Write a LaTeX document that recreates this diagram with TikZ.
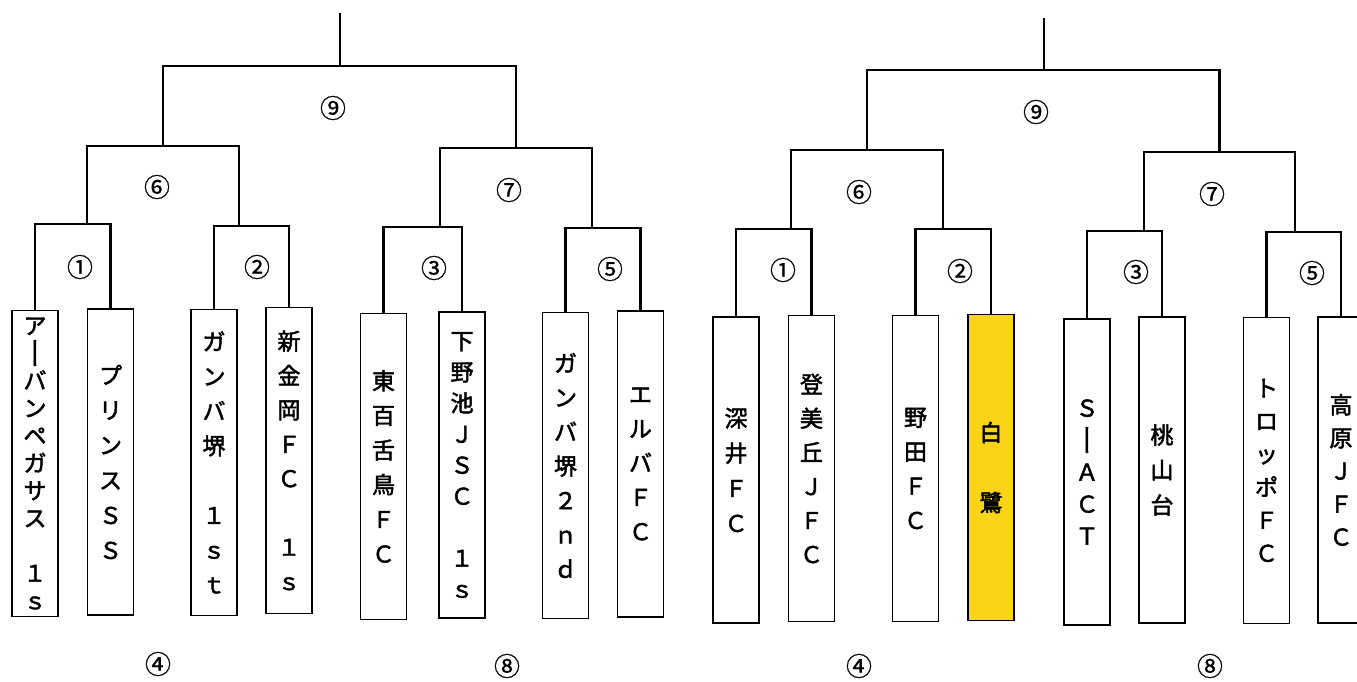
\documentclass[tikz,border=0pt]{standalone}
\usepackage{fontspec}
\usepackage{graphicx}
\newfontfamily\cjk{Noto Sans CJK JP}[FakeBold=2]
\newfontfamily\cjknum{Noto Sans CJK JP}[FakeBold=0.8]
\newcommand\vf[1]{\cjk\fontsize{23}{#1}\selectfont}
\newcommand\vbar{\smash{\rotatebox[origin=c]{90}{\raisebox{0em}[0.88em][0.12em]{\scalebox{1.4}[1.0]{ー}}}}}
\definecolor{yellowbox}{RGB}{250,212,24}
\tikzset{
  team/.style={draw, line width=1.8pt, minimum width=46pt, minimum height=306pt, inner sep=0pt, align=center, fill=white},
  bracket/.style={line width=2.6pt},
  num/.style={font=\cjknum\fontsize{26}{26}\selectfont, inner sep=0pt},
}
\begin{document}
\begin{tikzpicture}[x=1pt,y=-1pt]
\useasboundingbox (0,0) rectangle (1357,681);

% ---------- left bracket: teams ----------
\node[team, font=\vf{27.5}] (L1) at (35,463.5) {ア\\\vbar\\バ\\ン\\ペ\\ガ\\サ\\ス\\　\\１\\ｓ};
\node[team, font=\vf{35}] (L2) at (110.5,462) {プ\\リ\\ン\\ス\\Ｓ\\Ｓ};
\node[team, font=\vf{34.7}] (L3) at (214,462.5) {ガ\\ン\\バ\\堺\\　\\１\\ｓ\\ｔ};
\node[team, font=\vf{34.3}] (L4) at (289,460.5) {新\\金\\岡\\Ｆ\\Ｃ\\　\\１\\ｓ};
\node[team, font=\vf{34.6}] (L5) at (383.5,466.5) {東\\百\\舌\\鳥\\Ｆ\\Ｃ};
\node[team, font=\vf{31}] (L6) at (462,465) {下\\野\\池\\Ｊ\\Ｓ\\Ｃ\\　\\１\\ｓ};
\node[team, font=\vf{34.3}] (L7) at (565.5,465.5) {ガ\\ン\\バ\\堺\\２\\ｎ\\ｄ};
\node[team, font=\vf{34.3}] (L8) at (640.5,464) {エ\\ル\\バ\\Ｆ\\Ｃ};

% ---------- left bracket: lines ----------
\coordinate (lm1) at (74,224);
\coordinate (lm2) at (251,226);
\coordinate (lm3) at (428,227);
\coordinate (lm5) at (603,228);
\coordinate (lj1) at (87,224);
\coordinate (lj2) at (239,226);
\coordinate (lj3) at (440,227);
\coordinate (lj5) at (592,228);
\coordinate (lm6) at (163,146);
\coordinate (lm7) at (516,148);
\coordinate (lm9) at (340,66);
\coordinate (ltop) at (340,13);
\draw[bracket] (L1.north) |- (lm1) -| (L2.north);
\draw[bracket] (L3.north) |- (lm2) -| (L4.north);
\draw[bracket] (L5.north) |- (lm3) -| (L6.north);
\draw[bracket] (L7.north) |- (lm5) -| (L8.north);
\draw[bracket] (lj1) |- (lm6) -| (lj2);
\draw[bracket] (lj3) |- (lm7) -| (lj5);
\draw[bracket] (lm6) |- (lm9) -| (lm7);
\draw[bracket] (lm9) -- (ltop);

% ---------- left bracket: match numbers ----------
\node[num] (ln1) at (80,267) {①};
\node[num] (ln2) at (257,267) {②};
\node[num] (ln3) at (434,268) {③};
\node[num] (ln5) at (610,269) {⑤};
\node[num] (ln6) at (157,187) {⑥};
\node[num] (ln7) at (509,190) {⑦};
\node[num] (ln9) at (333,108) {⑨};
\node[num] (ln4) at (158,664) {④};
\node[num] (ln8) at (507,666) {⑧};

% ---------- right bracket: teams ----------
\node[team, font=\vf{35}] (R1) at (736,470) {深\\井\\Ｆ\\Ｃ};
\node[team, font=\vf{34}] (R2) at (811.5,468.5) {登\\美\\丘\\Ｊ\\Ｆ\\Ｃ};
\node[team, font=\vf{34.3}] (R3) at (915.5,468.5) {野\\田\\Ｆ\\Ｃ};
\node[team, font=\vf{35}, fill=yellowbox] (R4) at (991,467.5) {白\\　\\鷺};
\node[team, font=\vf{32}] (R5) at (1087,472) {Ｓ\\\vbar\\Ａ\\Ｃ\\Ｔ};
\node[team, font=\vf{35}] (R6) at (1162,470) {桃\\山\\台};
\node[team, font=\vf{33}] (R7) at (1266.5,470.5) {ト\\ロ\\ッ\\ポ\\Ｆ\\Ｃ};
\node[team, font=\vf{33}] (R8) at (1341,470) {高\\原\\Ｊ\\Ｆ\\Ｃ};

% ---------- right bracket: lines ----------
\coordinate (rm1) at (776,229);
\coordinate (rm2) at (953,229);
\coordinate (rm3) at (1124,231);
\coordinate (rm5) at (1304,232);
\coordinate (rj1) at (791,229);
\coordinate (rj2) at (943,229);
\coordinate (rj3) at (1144,231);
\coordinate (rj5) at (1295,232);
\coordinate (rm6) at (867,150);
\coordinate (rm7) at (1219.5,152);
\coordinate (rm9) at (1044,70);
\coordinate (rtop) at (1044,18);
\draw[bracket] (R1.north) |- (rm1) -| (R2.north);
\draw[bracket] (R3.north) |- (rm2) -| (R4.north);
\draw[bracket] (R5.north) |- (rm3) -| (R6.north);
\draw[bracket] (R7.north) |- (rm5) -| (R8.north);
\draw[bracket] (rj1) |- (rm6) -| (rj2);
\draw[bracket] (rj3) |- (rm7) -| (rj5);
\draw[bracket] (rm6) |- (rm9) -| (rm7);
\draw[bracket] (rm9) -- (rtop);

% ---------- right bracket: match numbers ----------
\node[num] (rn1) at (783,270) {①};
\node[num] (rn2) at (960,271) {②};
\node[num] (rn3) at (1136,272) {③};
\node[num] (rn5) at (1312,273) {⑤};
\node[num] (rn6) at (859,192) {⑥};
\node[num] (rn7) at (1212,194) {⑦};
\node[num] (rn9) at (1036,112) {⑨};
\node[num] (rn4) at (859,666) {④};
\node[num] (rn8) at (1210,666) {⑧};
\end{tikzpicture}
\end{document}
